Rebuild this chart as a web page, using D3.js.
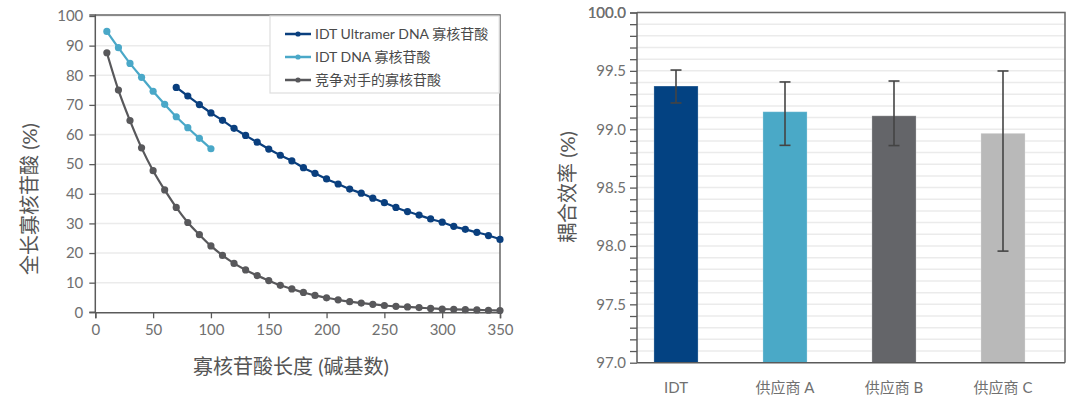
<!DOCTYPE html>
<html><head><meta charset="utf-8">
<script src="https://cdn.jsdelivr.net/npm/d3@7"></script>
<style>
body{margin:0;background:#fff;}
svg{display:block;font-family:Lato,"Noto Sans CJK SC",sans-serif;}
</style></head><body>
<svg id="c" width="1080" height="399"></svg>
<script>
// ---- Left chart data ----
const ultramerLen = [70,80,90,100,110,120,130,140,150,160,170,180,190,200,210,220,230,240,250,260,270,280,290,300,310,320,330,340,350];
const ultramerVal = [75.9,73.0,70.1,67.3,64.8,62.1,59.7,57.4,55.1,53.0,51.1,48.8,46.9,45.0,43.3,41.6,40.2,38.5,37.0,35.4,34.0,32.8,31.5,30.4,29.0,28.0,27.0,25.9,24.6];
const idtDnaLen = [10,20,30,40,50,60,70,80,90,100];
const idtDnaVal = [94.8,89.3,84.0,79.3,74.6,70.2,66.0,62.3,58.7,55.2];
const compLen = [10,20,30,40,50,60,70,80,90,100,110,120,130,140,150,160,170,180,190,200,210,220,230,240,250,260,270,280,290,300,310,320,330,340,350];
const compVal = [87.6,75.0,64.7,55.5,47.8,41.3,35.4,30.3,26.2,22.4,19.2,16.5,14.3,12.4,10.7,9.1,7.9,6.7,5.7,4.9,4.2,3.6,3.1,2.7,2.3,2.0,1.8,1.6,1.3,1.1,1.0,0.9,0.8,0.7,0.6];
const seriesNames = ["IDT Ultramer DNA 寡核苷酸","IDT DNA 寡核苷酸","竞争对手的寡核苷酸"];
const seriesColors = ["#0a3f7e","#4aa8c8","#58585b"];
const leftXTicks = [0,50,100,150,200,250,300,350];
const leftYTicks = [0,10,20,30,40,50,60,70,80,90,100];
const leftXTitle = "寡核苷酸长度 (碱基数)";
const leftYTitle = "全长寡核苷酸 (%)";

// ---- Right chart data ----
const suppliers = ["IDT","供应商 A","供应商 B","供应商 C"];
const coupling = [99.37,99.15,99.115,98.965];
const errLow = [99.225,98.862,98.86,97.956];
const errHigh = [99.507,99.405,99.413,99.499];
const barColors = ["#034282","#4aa9c7","#646569","#b9b9b9"];
const rightYTicks = [97.0,97.5,98.0,98.5,99.0,99.5,100.0];
const rightYTitle = "耦合效率 (%)";

const svg = d3.select("#c");
const tickColor = "#707070", axisColor = "#5a5a5a", gridColor = "#ebebeb";

// ===== Left chart =====
const L = {l:95.3, r:500, t:16, b:312.3};
const x = d3.scaleLinear().domain([0,350]).range([L.l,L.r]);
const y = d3.scaleLinear().domain([0,100]).range([L.b,L.t]);
const gl = svg.append("g");
gl.selectAll("line.grid").data(leftYTicks.filter(d=>d>0)).join("line")
  .attr("x1",L.l).attr("x2",L.r).attr("y1",d=>y(d)).attr("y2",d=>y(d))
  .attr("stroke",gridColor).attr("stroke-width",1.5);
// frame top/right
gl.append("path").attr("d",`M${L.l},${L.t-1}H${L.r}V${L.b}`).attr("fill","none").attr("stroke","#666").attr("stroke-width",1.5);

const yAxL = gl.append("g").attr("transform",`translate(${L.l},0)`)
  .call(d3.axisLeft(y).tickValues(leftYTicks).tickSize(6).tickPadding(6));
const xAxL = gl.append("g").attr("transform",`translate(0,${L.b})`)
  .call(d3.axisBottom(x).tickValues(leftXTicks).tickSize(6).tickPadding(6));
[yAxL,xAxL].forEach(a=>{
  a.select(".domain").attr("stroke",axisColor).attr("stroke-width",1.5);
  a.selectAll(".tick line").attr("stroke",axisColor).attr("stroke-width",1.3);
  a.selectAll("text").attr("fill",tickColor).style("font-size","15px").style("font-family","Lato,'Noto Sans CJK SC',sans-serif");
});
yAxL.select(".domain").attr("d",`M-6,${L.b}H0V${L.t-1}H-6`);

const series = [
  {len:ultramerLen, val:ultramerVal},
  {len:idtDnaLen, val:idtDnaVal},
  {len:compLen, val:compVal}
];
const line = d3.line().x(d=>x(d[0])).y(d=>y(d[1])).curve(d3.curveMonotoneX);
series.forEach((s,i)=>{
  const pts = s.len.map((l,k)=>[l,s.val[k]]);
  gl.append("path").datum(pts).attr("d",line).attr("fill","none")
    .attr("stroke",seriesColors[i]).attr("stroke-width",2.2);
  gl.selectAll(null).data(pts).join("circle")
    .attr("cx",d=>x(d[0])).attr("cy",d=>y(d[1])).attr("r",3.6).attr("fill",seriesColors[i]);
});

// legend
const lg = gl.append("g");
lg.append("rect").attr("x",270).attr("y",L.t).attr("width",L.r-270-0.8).attr("height",77)
  .attr("fill","#fff").attr("stroke","#dedede").attr("stroke-width",1.2);
seriesNames.forEach((n,i)=>{
  const yy = 34 + i*23;
  lg.append("line").attr("x1",285).attr("x2",311).attr("y1",yy).attr("y2",yy)
    .attr("stroke",seriesColors[i]).attr("stroke-width",2.5);
  lg.append("circle").attr("cx",298).attr("cy",yy).attr("r",2.6).attr("fill",seriesColors[i]);
  lg.append("text").attr("x",315).attr("y",yy+5).text(n).attr("fill","#4a4a4a").style("font-size","14px");
});

gl.append("text").attr("x",291).attr("y",374).attr("text-anchor","middle")
  .attr("fill","#555").style("font-size","20px").text(leftXTitle);
gl.append("text").attr("transform","translate(37,199) rotate(-90)").attr("text-anchor","middle")
  .attr("fill","#555").style("font-size","20px").text(leftYTitle);

// ===== Right chart =====
const R = {l:637, r:1065, t:12.5, b:362.7};
const yr = d3.scaleLinear().domain([97,100]).range([R.b,R.t]);
const xb = d3.scaleBand().domain(suppliers).range([621.5,1057.5]).paddingInner(0.595).paddingOuter(0.2975);
const gr = svg.append("g");
const minor = d3.range(97.1,100,0.1).map(v=>+v.toFixed(1));
gr.selectAll("line.grid").data(minor).join("line")
  .attr("x1",R.l).attr("x2",R.r).attr("y1",d=>yr(d)).attr("y2",d=>yr(d))
  .attr("stroke",gridColor).attr("stroke-width",1.5);
gr.append("path").attr("d",`M${R.l},${R.t}H${R.r}V${R.b}`).attr("fill","none").attr("stroke","#666").attr("stroke-width",1.5);

// bars
gr.selectAll("rect.bar").data(suppliers).join("rect")
  .attr("x",d=>xb(d)).attr("width",xb.bandwidth())
  .attr("y",(d,i)=>yr(coupling[i])).attr("height",(d,i)=>R.b-yr(coupling[i]))
  .attr("fill",(d,i)=>barColors[i]).attr("stroke","rgba(255,255,255,0.25)").attr("stroke-width",1);
// error bars
suppliers.forEach((s,i)=>{
  const cx = xb(s)+xb.bandwidth()/2;
  gr.append("line").attr("x1",cx).attr("x2",cx).attr("y1",yr(errHigh[i])).attr("y2",yr(errLow[i]))
    .attr("stroke","#444").attr("stroke-width",1.6);
  [errHigh[i],errLow[i]].forEach(v=>{
    gr.append("line").attr("x1",cx-5.5).attr("x2",cx+5.5).attr("y1",yr(v)).attr("y2",yr(v))
      .attr("stroke","#444").attr("stroke-width",1.6);
  });
});

const yAxR = gr.append("g").attr("transform",`translate(${R.l},0)`)
  .call(d3.axisLeft(yr).tickValues(minor.concat([97,100])).tickSize(7).tickPadding(4)
    .tickFormat(d=>rightYTicks.some(t=>Math.abs(t-d)<1e-6)?d3.format(".1f")(d):""));
yAxR.select(".domain").attr("stroke",axisColor).attr("stroke-width",1.5).attr("d",`M0,${R.t}V${R.b}`);
yAxR.selectAll(".tick line").attr("stroke",axisColor).attr("stroke-width",1.3);
yAxR.selectAll("text").attr("fill",tickColor).style("font-size","15px").style("font-family","Lato,'Noto Sans CJK SC',sans-serif");

gr.append("line").attr("x1",R.l).attr("x2",R.r).attr("y1",R.b).attr("y2",R.b).attr("stroke",axisColor).attr("stroke-width",1.5);
const xAxR = gr.append("g").attr("transform",`translate(0,${R.b})`)
  .call(d3.axisBottom(xb).tickSize(0).tickPadding(20));
xAxR.select(".domain").remove();
xAxR.selectAll("text").attr("fill",tickColor).style("font-size","15px").style("font-family","Lato,'Noto Sans CJK SC',sans-serif");

gr.append("text").attr("transform","translate(575,187) rotate(-90)").attr("text-anchor","middle")
  .attr("fill","#555").style("font-size","20px").text(rightYTitle);
</script>
</body></html>
